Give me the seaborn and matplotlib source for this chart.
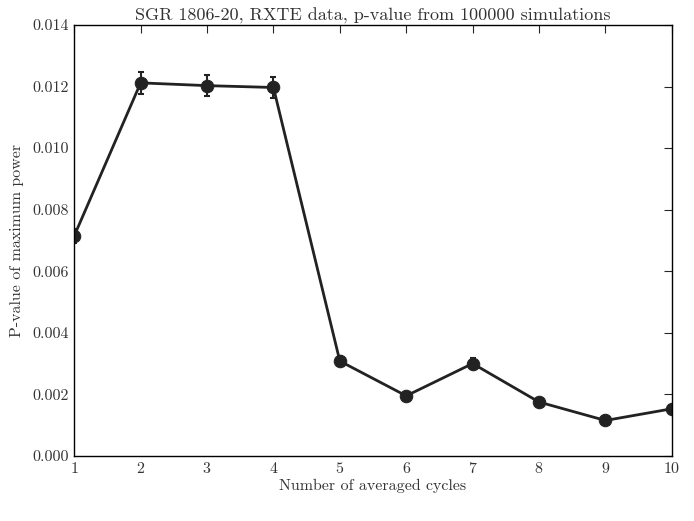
import matplotlib
matplotlib.use("Agg")
import matplotlib.pyplot as plt
import seaborn as sns
import pandas as pd

sns.set_style("white")
plt.rcParams['font.family'] = ['cmr10', 'DejaVu Serif']
plt.rcParams['axes.formatter.use_mathtext'] = True
plt.rcParams['axes.unicode_minus'] = False

cycles = [1, 2, 3, 4, 5, 6, 7, 8, 9, 10]
pvalues = [0.00715, 0.01212, 0.01203, 0.01197, 0.00308, 0.00195, 0.00300, 0.00175, 0.00115, 0.00153]
errors = [0.00022, 0.00035, 0.00035, 0.00035, 0.00017, 0.00014, 0.00017, 0.00013, 0.00010, 0.00012]
df = pd.DataFrame({"cycles": cycles, "p": pvalues, "err": errors})

fig = plt.figure(figsize=(6.94, 5.21), dpi=100)
ax = fig.add_axes([0.107, 0.125, 0.861, 0.827])
sns.lineplot(data=df, x="cycles", y="p", ax=ax, color='#222222', linewidth=2,
             marker='o', markersize=9, markeredgecolor='#222222')
ax.errorbar(df["cycles"], df["p"], yerr=df["err"], fmt='none', ecolor='#222222',
            elinewidth=1.5, capsize=2.5, capthick=1.5)
ax.set_xlim(1, 10)
ax.set_ylim(0, 0.014)
ax.set_xticks(range(1, 11))
ax.set_yticks([0.000, 0.002, 0.004, 0.006, 0.008, 0.010, 0.012, 0.014])
ax.set_yticklabels([f"{v:.3f}" for v in ax.get_yticks()])
ax.tick_params(direction='in', top=True, right=True, length=6, labelsize=11.5, pad=4,
               labelcolor='#333333')
for s in ax.spines.values():
    s.set_color('black')
    s.set_linewidth(1)
ax.set_xlabel("Number of averaged cycles", fontsize=11.5, labelpad=2, color='#333333')
ax.set_ylabel("P-value of maximum power", fontsize=11.5, labelpad=6, color='#333333')
ax.set_title("SGR 1806-20, RXTE data, p-value from 100000 simulations", fontsize=13,
             pad=3, color='#333333')
fig.savefig("out.png", dpi=100)
